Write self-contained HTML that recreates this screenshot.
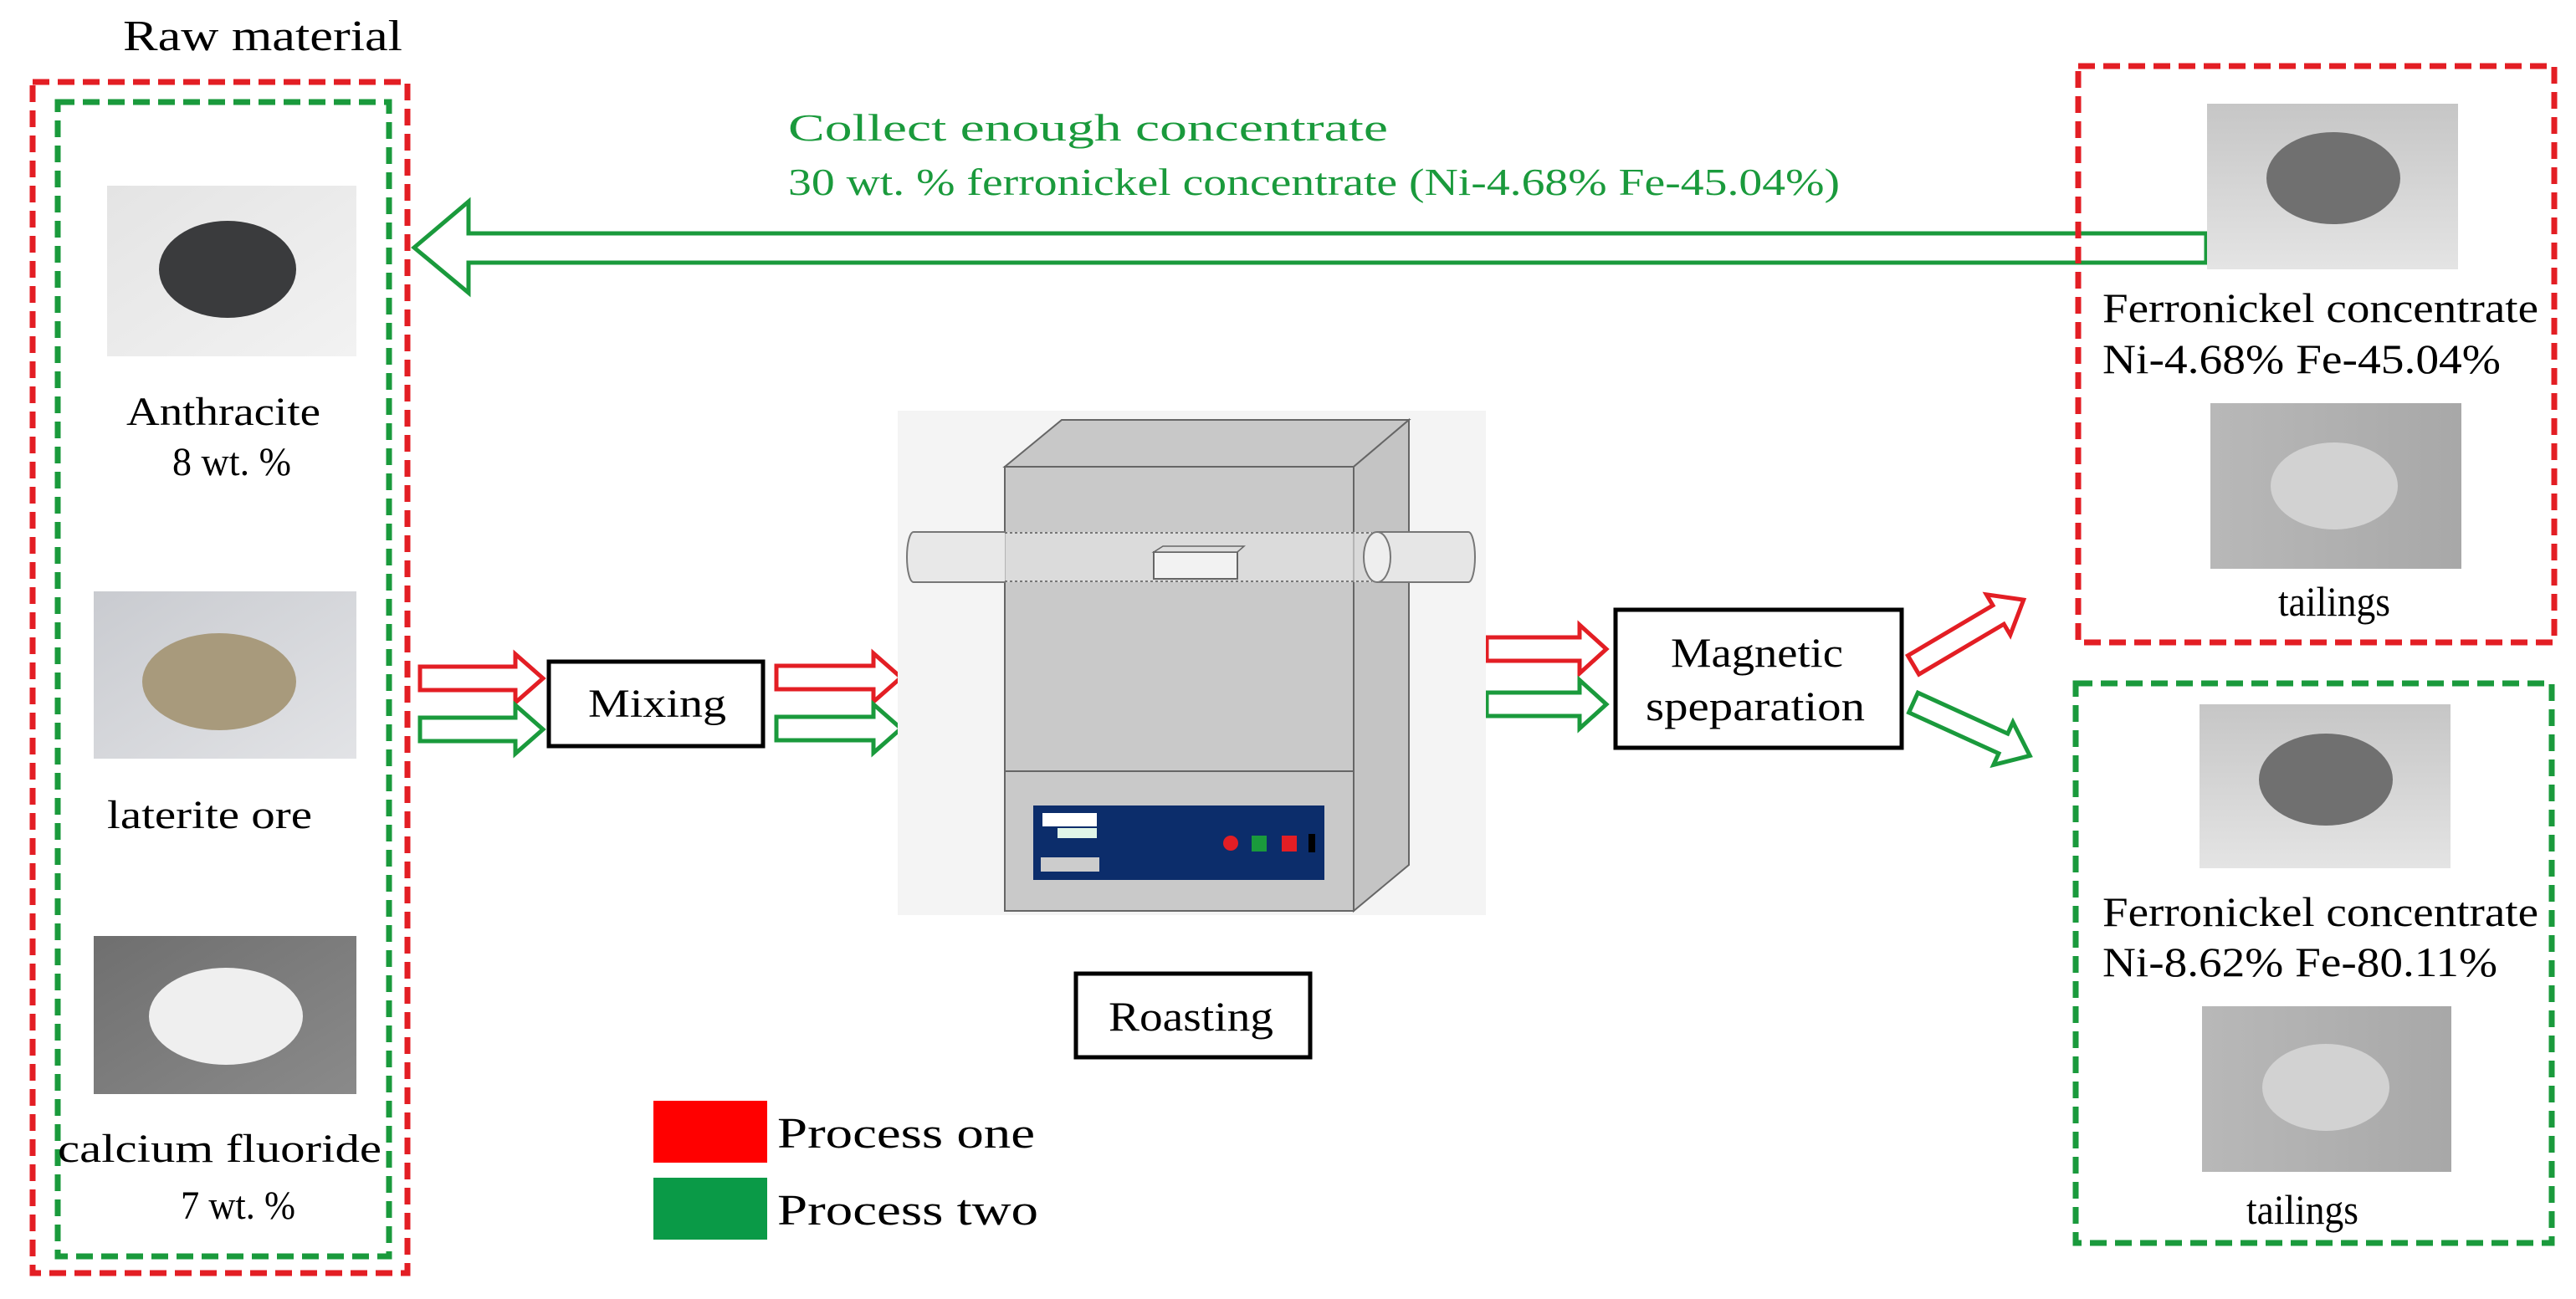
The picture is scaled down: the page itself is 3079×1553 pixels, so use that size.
<!DOCTYPE html>
<html><head><meta charset="utf-8"><style>
html,body{margin:0;padding:0;background:#fff;}
svg{display:block;}
text{font-family:"Liberation Serif",serif;}
</style></head><body>
<svg width="3079" height="1553" viewBox="0 0 3079 1553" xmlns="http://www.w3.org/2000/svg">
<defs>
<linearGradient id="bgA" x1="0" y1="0" x2="1" y2="1"><stop offset="0" stop-color="#e4e4e4"/><stop offset="1" stop-color="#f2f2f2"/></linearGradient>
<linearGradient id="bgB" x1="0" y1="0" x2="1" y2="1"><stop offset="0" stop-color="#c9cbd0"/><stop offset="1" stop-color="#e2e3e6"/></linearGradient>
<linearGradient id="bgC" x1="0" y1="0" x2="1" y2="1"><stop offset="0" stop-color="#6f6f6f"/><stop offset="1" stop-color="#8a8a8a"/></linearGradient>
<linearGradient id="bgD" x1="0" y1="0" x2="0" y2="1"><stop offset="0" stop-color="#c6c6c6"/><stop offset="1" stop-color="#e4e4e4"/></linearGradient>
<linearGradient id="bgE" x1="0" y1="0" x2="1" y2="0"><stop offset="0" stop-color="#b8b8b8"/><stop offset="1" stop-color="#a8a8a8"/></linearGradient>
</defs>

<!-- Raw material -->
<text x="147" y="60" font-size="52" textLength="334" lengthAdjust="spacingAndGlyphs">Raw material</text>
<rect x="39" y="98" width="448" height="1424" fill="none" stroke="#e31e24" stroke-width="7" stroke-dasharray="20,10"/>
<rect x="69" y="122" width="396" height="1380" fill="none" stroke="#1a9a3c" stroke-width="7" stroke-dasharray="20,10"/>

<rect x="128" y="222" width="298" height="204" fill="url(#bgA)"/>
<ellipse cx="272" cy="322" rx="82" ry="58" fill="#3a3b3d"/>
<text x="151" y="508" font-size="48" textLength="232" lengthAdjust="spacingAndGlyphs">Anthracite</text>
<text x="206" y="568" font-size="48" textLength="142" lengthAdjust="spacingAndGlyphs">8 wt. %</text>

<rect x="112" y="707" width="314" height="200" fill="url(#bgB)"/>
<ellipse cx="262" cy="815" rx="92" ry="58" fill="#a89a7c"/>
<text x="128" y="990" font-size="48" textLength="245" lengthAdjust="spacingAndGlyphs">laterite ore</text>

<rect x="112" y="1119" width="314" height="189" fill="url(#bgC)"/>
<ellipse cx="270" cy="1215" rx="92" ry="58" fill="#efefef"/>
<text x="69" y="1389" font-size="48" textLength="387" lengthAdjust="spacingAndGlyphs">calcium fluoride</text>
<text x="216" y="1457" font-size="48" textLength="137" lengthAdjust="spacingAndGlyphs">7 wt. %</text>

<!-- big return arrow -->
<polygon points="495,296 560,241 560,279 2637,279 2637,314 560,314 560,350" fill="#fff" stroke="#1a9a3c" stroke-width="5"/>
<text x="942" y="168" font-size="46" fill="#1a9a3c" textLength="717" lengthAdjust="spacingAndGlyphs">Collect enough concentrate</text>
<text x="942" y="233" font-size="46" fill="#1a9a3c" textLength="1257" lengthAdjust="spacingAndGlyphs">30 wt. % ferronickel concentrate (Ni-4.68% Fe-45.04%)</text>

<!-- small arrows -->
<g fill="#fff" stroke-width="5">
<polygon points="502,797 616,797 616,782 649,811 616,840 616,825 502,825" stroke="#e31e24"/>
<polygon points="502,858 616,858 616,843 649,872 616,901 616,886 502,886" stroke="#1a9a3c"/>
<polygon points="928,796 1044,796 1044,781 1077,810 1044,839 1044,824 928,824" stroke="#e31e24"/>
<polygon points="928,857 1044,857 1044,842 1077,871 1044,900 1044,885 928,885" stroke="#1a9a3c"/>
<polygon points="1777,762 1888,762 1888,747 1920,776 1888,805 1888,790 1777,790" stroke="#e31e24"/>
<polygon points="1777,828 1888,828 1888,813 1920,842 1888,871 1888,856 1777,856" stroke="#1a9a3c"/>
<g transform="translate(2287,795) rotate(-30.6)"><polygon points="0,-13 118,-13 118,-28 153,0 118,28 118,13 0,13" stroke="#e31e24"/></g>
<g transform="translate(2287,840) rotate(24.5)"><polygon points="0,-13 118,-13 118,-28 153,0 118,28 118,13 0,13" stroke="#1a9a3c"/></g>
</g>

<!-- Mixing -->
<rect x="656" y="791" width="256" height="101" fill="#fff" stroke="#000" stroke-width="5"/>
<text x="703" y="857" font-size="48" textLength="165" lengthAdjust="spacingAndGlyphs">Mixing</text>

<!-- furnace -->
<rect x="1073" y="491" width="703" height="603" fill="#f4f4f4"/>
<polygon points="1201,558 1269,502 1684,502 1618,558" fill="#c8c8c8" stroke="#666" stroke-width="2"/>
<polygon points="1618,558 1684,502 1684,1034 1618,1089" fill="#c4c4c4" stroke="#666" stroke-width="2"/>
<rect x="1201" y="558" width="417" height="531" fill="#c9c9c9" stroke="#666" stroke-width="2"/>
<line x1="1201" y1="922" x2="1618" y2="922" stroke="#666" stroke-width="2"/>
<rect x="1235" y="963" width="348" height="89" fill="#0c2d6b"/>
<rect x="1246" y="972" width="65" height="16" fill="#fff"/>
<rect x="1264" y="990" width="47" height="12" fill="#e0f5e8"/>
<rect x="1244" y="1025" width="70" height="17" fill="#ccc"/>
<circle cx="1471" cy="1008" r="9" fill="#e31e24"/>
<rect x="1496" y="999" width="18" height="19" fill="#1a9a3c"/>
<rect x="1532" y="999" width="18" height="19" fill="#e31e24"/>
<rect x="1564" y="997" width="8" height="22" fill="#000"/>
<rect x="1090" y="636" width="665" height="60" fill="#e8e8e8" fill-opacity="0.6" stroke="none"/>
<path d="M1201,636 L1092,636 A8,30 0 0 0 1092,696 L1201,696" fill="#e8e8e8" stroke="#777" stroke-width="2"/>
<path d="M1646,636 L1755,636 A8,30 0 0 1 1755,696 L1646,696" fill="#e6e6e6" stroke="#777" stroke-width="2"/>
<ellipse cx="1646" cy="666" rx="16" ry="30" fill="#eee" stroke="#777" stroke-width="2"/>
<line x1="1201" y1="637" x2="1640" y2="637" stroke="#777" stroke-width="2" stroke-dasharray="3,3"/>
<line x1="1201" y1="695" x2="1640" y2="695" stroke="#777" stroke-width="2" stroke-dasharray="3,3"/>
<rect x="1379" y="660" width="100" height="32" fill="#f2f2f2" stroke="#666" stroke-width="2"/>
<polygon points="1379,660 1390,653 1487,653 1479,660" fill="#ddd" stroke="#666" stroke-width="1.5"/>

<!-- Roasting -->
<rect x="1286" y="1164" width="280" height="100" fill="#fff" stroke="#000" stroke-width="5"/>
<text x="1325" y="1232" font-size="50" textLength="197" lengthAdjust="spacingAndGlyphs">Roasting</text>

<!-- Magnetic -->
<rect x="1931" y="729" width="342" height="165" fill="#fff" stroke="#000" stroke-width="5"/>
<text x="1997" y="797" font-size="50" textLength="206" lengthAdjust="spacingAndGlyphs">Magnetic</text>
<text x="1967" y="861" font-size="50" textLength="262" lengthAdjust="spacingAndGlyphs">speparation</text>

<!-- legend -->
<rect x="781" y="1316" width="136" height="74" fill="#ff0000"/>
<rect x="781" y="1408" width="136" height="74" fill="#0a9a47"/>
<text x="929" y="1372" font-size="52" textLength="308" lengthAdjust="spacingAndGlyphs">Process one</text>
<text x="929" y="1464" font-size="52" textLength="312" lengthAdjust="spacingAndGlyphs">Process two</text>

<!-- right boxes -->
<rect x="2484" y="79" width="569" height="689" fill="none" stroke="#e31e24" stroke-width="7" stroke-dasharray="20,10"/>
<rect x="2481" y="817" width="569" height="669" fill="none" stroke="#1a9a3c" stroke-width="7" stroke-dasharray="20,10"/>

<rect x="2638" y="124" width="300" height="198" fill="url(#bgD)"/>
<ellipse cx="2789" cy="213" rx="80" ry="55" fill="#707070"/>
<text x="2513" y="385" font-size="50" textLength="521" lengthAdjust="spacingAndGlyphs">Ferronickel concentrate</text>
<text x="2513" y="446" font-size="50" textLength="476" lengthAdjust="spacingAndGlyphs">Ni-4.68% Fe-45.04%</text>
<rect x="2642" y="482" width="300" height="198" fill="url(#bgE)"/>
<ellipse cx="2790" cy="581" rx="76" ry="52" fill="#d2d2d2"/>
<text x="2723" y="736" font-size="50" textLength="134" lengthAdjust="spacingAndGlyphs">tailings</text>

<rect x="2629" y="842" width="300" height="196" fill="url(#bgD)"/>
<ellipse cx="2780" cy="932" rx="80" ry="55" fill="#707070"/>
<text x="2513" y="1107" font-size="50" textLength="521" lengthAdjust="spacingAndGlyphs">Ferronickel concentrate</text>
<text x="2513" y="1167" font-size="50" textLength="472" lengthAdjust="spacingAndGlyphs">Ni-8.62% Fe-80.11%</text>
<rect x="2632" y="1203" width="298" height="198" fill="url(#bgE)"/>
<ellipse cx="2780" cy="1300" rx="76" ry="52" fill="#d2d2d2"/>
<text x="2685" y="1463" font-size="50" textLength="134" lengthAdjust="spacingAndGlyphs">tailings</text>
</svg>
</body></html>
